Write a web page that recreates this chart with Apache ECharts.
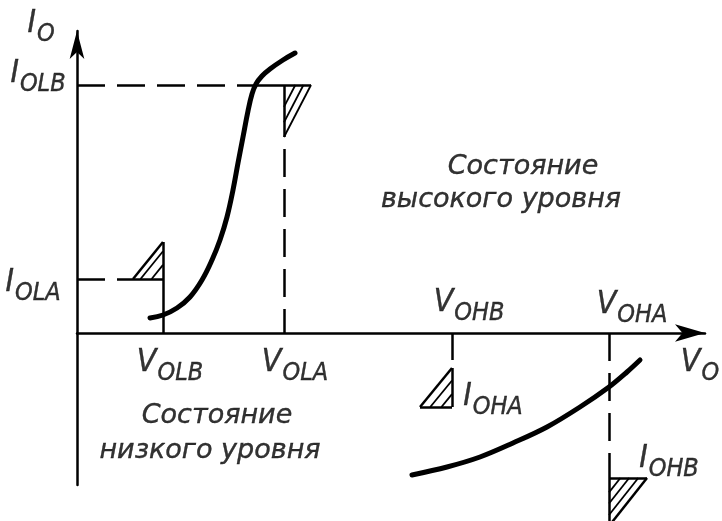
<!DOCTYPE html>
<html>
<head>
<meta charset="utf-8">
<script src="https://cdn.jsdelivr.net/npm/echarts@6/dist/echarts.min.js"></script>
<style>html,body{margin:0;padding:0;background:#fff;}#c{width:722px;height:521px;}</style>
</head>
<body>
<div id="c"></div>
<script>
// ---- data (diagram units: output voltage V_O, output current I_O) ----
const lowCurveV  = [7.3, 8.6, 10.0, 11.3, 12.5, 13.5, 14.3, 15.0, 15.6, 16.1, 16.6, 17.1, 17.5, 17.9, 18.5, 19.3, 20.6, 21.8];
const lowCurveI  = [1.5, 1.8, 2.5, 3.6, 5.3, 7.3, 9.3, 11.6, 14.3, 17.0, 19.6, 22.2, 23.9, 24.9, 25.7, 26.4, 27.3, 28.0];
const highCurveV = [33.5, 37.0, 40.3, 43.6, 47.0, 50.3, 53.2, 55.0, 56.3];
const highCurveI = [-14.2, -13.4, -12.4, -11.0, -9.4, -7.4, -5.4, -3.9, -2.7];
const V_OLB = 8.6, V_OLA = 20.7, V_OHB = 37.5, V_OHA = 53.2;
const I_OLA = 5.4, I_OLB = 24.8, I_OHA = -3.5, I_OHB = -14.5;
const labelNames = [['I','O'],['I','OLB'],['I','OLA'],['V','OLB'],['V','OLA'],['V','OHB'],['V','OHA'],['V','O'],['I','OHA'],['I','OHB']];
const stateTexts = ['Состояние','высокого уровня','Состояние','низкого уровня'];

// ---- layout ----
const X_MIN = 0, X_MAX = 62.8, Y_MIN = -15.2, Y_MAX = 30.2;
const labelPos = [[-3.6,30.6],[-3.9,25.6],[-4.4,4.7],[9.3,-3.3],[21.8,-3.3],[39.2,2.7],[55.5,2.5],[62.3,-3.3],[41.6,-6.7],[59.2,-12.9]];
const statePos = [[44.6,16.6],[42.4,13.3],[14.0,-8.3],[13.3,-11.8]];

const FONT = '"Liberation Sans Narrow","DejaVu Sans Condensed","DejaVu Sans",sans-serif';
const SFONT = '"DejaVu Sans",sans-serif';

function hatch(C, A, B, ts) {
  return ts.map(t => ({coords: [[C[0] + t*(A[0]-C[0]), C[1] + t*(A[1]-C[1])],
                                [C[0] + t*(B[0]-C[0]), C[1] + t*(B[1]-C[1])]]}));
}
const seg = (a, b) => ({coords: [a, b]});

const crossV = 17.7;
const triOLA = {C:[V_OLB, I_OLA], A:[V_OLB, 9.1], B:[5.6, I_OLA]};
const triOLB = {C:[V_OLA, I_OLB], A:[V_OLA, 19.6], B:[23.4, I_OLB]};
const triOHA = {C:[V_OHB, -7.4], A:[V_OHB, I_OHA], B:[34.3, -7.4]};
const triOHB = {C:[V_OHA, I_OHB], A:[V_OHA, -19.3], B:[57.0, I_OHB]};

const dashed = [
  seg([0, I_OLB], [crossV, I_OLB]),
  seg([V_OLA, 18.4], [V_OLA, 0]),
  seg([0, I_OLA], [triOLA.B[0], I_OLA]),
  seg([V_OHA, 0], [V_OHA, I_OHB])
];
const solid = [
  seg([crossV, I_OLB], [triOLB.B[0], I_OLB]),
  seg(triOLB.C, triOLB.A),
  seg([V_OLB, 0], triOLA.A),
  seg(triOLA.B, triOLA.C),
  seg(triOLA.B, triOLA.A),
  seg([V_OHB, 0], [V_OHB, -2.7]),
  seg(triOHA.C, triOHA.A),
  seg(triOHA.C, triOHA.B),
  seg(triOHA.A, triOHA.B),
  seg(triOHB.C, [V_OHA, -18.9]),
  seg(triOHB.C, triOHB.B),
  seg(triOHB.B, triOHB.A)
];
const hatches = [].concat(
  hatch(triOLA.C, triOLA.A, triOLA.B, [0.38, 0.75]),
  hatch(triOLB.C, triOLB.A, triOLB.B, [0.42, 0.72, 1.0]),
  hatch(triOHA.C, triOHA.A, triOHA.B, [0.33, 0.68]),
  hatch(triOHB.C, triOHB.A, triOHB.B, [0.3, 0.53, 0.77])
);

const rich = {
  m: {fontFamily: FONT, fontStyle: 'italic', fontSize: 32, color: '#000', verticalAlign: 'top', padding: [0,1,7,0],
      textBorderColor: '#000', textBorderWidth: 0.4},
  s: {fontFamily: FONT, fontStyle: 'italic', fontSize: 25, color: '#000', verticalAlign: 'bottom',
      textBorderColor: '#000', textBorderWidth: 0.4}
};
const labelData = labelNames.map((n, i) => ({
  value: labelPos[i],
  label: {show: true, position: 'inside', formatter: '{m|' + n[0] + '}{s|' + n[1] + '}', rich: rich}
}));
const stateData = stateTexts.map((t, i) => ({
  value: statePos[i],
  label: {show: true, position: 'inside', formatter: t, fontFamily: SFONT, fontStyle: 'italic', fontSize: 27,
          color: '#000', textBorderColor: '#000', textBorderWidth: 0.4}
}));

const axisCommon = {
  type: 'value', splitLine: {show: false}, axisTick: {show: false}, axisLabel: {show: false},
  axisLine: {show: true, onZero: true, symbol: ['none', 'arrow'], lineStyle: {color: '#000', width: 2.5}}
};

const chart = echarts.init(document.getElementById('c'), null, {renderer: 'canvas'});
chart.setOption({
  backgroundColor: '#fff',
  animation: false,
  grid: {left: 77, right: 17, top: 31, bottom: 36},
  xAxis: Object.assign({}, axisCommon, {min: X_MIN, max: X_MAX,
    axisLine: Object.assign({}, axisCommon.axisLine, {symbolSize: [13, 30]})}),
  yAxis: Object.assign({}, axisCommon, {min: Y_MIN, max: Y_MAX,
    axisLine: Object.assign({}, axisCommon.axisLine, {symbolSize: [11, 28]})}),
  series: [
    {type: 'line', data: lowCurveV.map((v, i) => [v, lowCurveI[i]]), smooth: 0.4, symbol: 'none', clip: false,
     lineStyle: {color: '#000', width: 5, cap: 'round', join: 'round'}, silent: true},
    {type: 'line', data: highCurveV.map((v, i) => [v, highCurveI[i]]), smooth: 0.35, symbol: 'none', clip: false,
     lineStyle: {color: '#000', width: 5, cap: 'round', join: 'round'}, silent: true},
    {type: 'lines', coordinateSystem: 'cartesian2d', data: dashed, clip: false, silent: true,
     lineStyle: {color: '#000', width: 2.5, type: [28, 12], opacity: 1}},
    {type: 'lines', coordinateSystem: 'cartesian2d', data: solid, clip: false, silent: true,
     lineStyle: {color: '#000', width: 2.5, opacity: 1}},
    {type: 'lines', coordinateSystem: 'cartesian2d', data: hatches, clip: false, silent: true,
     lineStyle: {color: '#000', width: 1.8, opacity: 1}},
    {type: 'scatter', data: labelData, symbolSize: 0, clip: false, silent: true},
    {type: 'scatter', data: stateData, symbolSize: 0, clip: false, silent: true}
  ]
});
</script>
</body>
</html>
